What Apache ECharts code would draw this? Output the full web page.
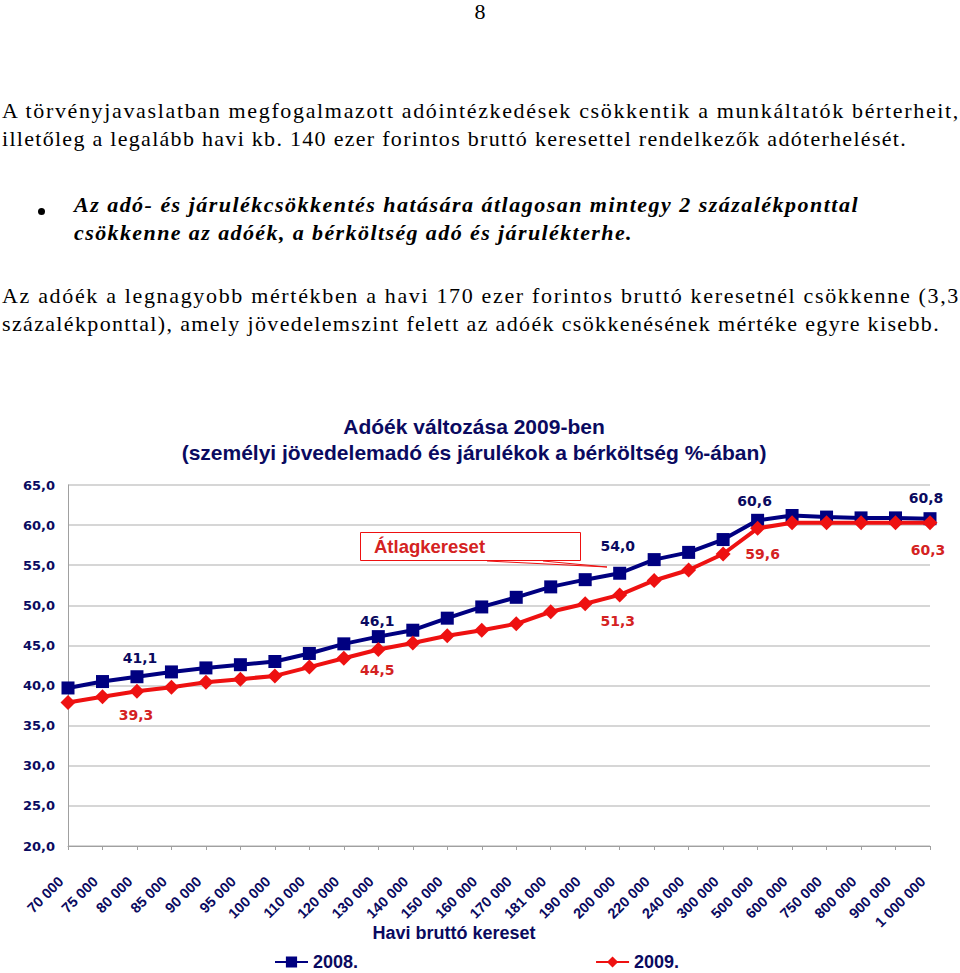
<!DOCTYPE html>
<html><head><meta charset="utf-8">
<script src="https://cdn.jsdelivr.net/npm/echarts/dist/echarts.min.js"></script>
<style>
html,body{margin:0;padding:0;background:#fff;width:960px;height:973px;overflow:hidden;}
#chart{position:absolute;left:0;top:0;width:960px;height:973px;}
.t{position:absolute;white-space:nowrap;font-family:"Liberation Serif","DejaVu Serif","Times New Roman",serif;font-size:22px;line-height:28px;color:#000;}
.bi{font-weight:bold;font-style:italic;}
.dot{position:absolute;left:38px;top:208px;width:7px;height:7px;border-radius:50%;background:#000;}
</style></head><body>
<div id="chart"></div>
<div class="t" style="left:0;top:-2px;width:960px;text-align:center">8</div>
<div class="t fit" data-w="958" style="left:2px;top:97px">A törvényjavaslatban megfogalmazott adóintézkedések csökkentik a munkáltatók bérterheit,</div>
<div class="t fit" data-w="905" style="left:2px;top:125px">illetőleg a legalább havi kb. 140 ezer forintos bruttó keresettel rendelkezők adóterhelését.</div>
<div class="dot"></div>
<div class="t bi fit" data-w="785" style="left:74px;top:191px">Az adó- és járulékcsökkentés hatására átlagosan mintegy 2 százalékponttal</div>
<div class="t bi fit" data-w="559" style="left:74px;top:219px">csökkenne az adóék, a bérköltség adó és járulékterhe.</div>
<div class="t fit" data-w="958" style="left:2px;top:282px">Az adóék a legnagyobb mértékben a havi 170 ezer forintos bruttó keresetnél csökkenne (3,3</div>
<div class="t fit" data-w="938" style="left:2px;top:310px">százalékponttal), amely jövedelemszint felett az adóék csökkenésének mértéke egyre kisebb.</div>
<script>
document.querySelectorAll('.fit').forEach(function(el){
  var target=+el.dataset.w;
  var w=el.getBoundingClientRect().width;
  var n=el.textContent.length;
  el.style.letterSpacing=((target-w)/n)+'px';
});

// ---- data ----
const categories=['70 000','75 000','80 000','85 000','90 000','95 000','100 000','110 000','120 000','130 000','140 000','150 000','160 000','170 000','181 000','190 000','200 000','220 000','240 000','300 000','500 000','600 000','750 000','800 000','900 000','1 000 000'];
const values2008=[39.7,40.5,41.1,41.7,42.2,42.6,43.0,44.0,45.2,46.1,46.9,48.4,49.8,51.0,52.3,53.2,54.0,55.7,56.6,58.2,60.6,61.2,61.0,60.9,60.9,60.8];
const values2009=[37.9,38.6,39.3,39.8,40.4,40.8,41.2,42.3,43.4,44.5,45.3,46.2,46.9,47.7,49.2,50.2,51.3,53.1,54.4,56.4,59.6,60.3,60.3,60.3,60.3,60.3];
const seriesNames=['2008.','2009.'];
const labelledIdx=[2,9,16,20,25];
const yMin=20, yMax=65, yStep=5;
const chartTitle='Adóék változása 2009-ben\n(személyi jövedelemadó és járulékok a bérköltség %-ában)';
const xName='Havi bruttó kereset';
const calloutText='Átlagkereset';

// ---- styles ----
const NAVY='#000080', TXT='#0a0a60', RED='#ee1111', REDTXT='#d42222';
const blueOffsets={2:[3,0],9:[-1,3],16:[-2,-9],20:[-3,-1],25:[-4,-2]};
const redOffsets={2:[-1,3],9:[-1,0],16:[-2,6],20:[5,5],25:[-2,7]};
const fmt=v=>v.toFixed(1).replace('.',',');

function buildData(vals,isBlue){
  return vals.map(function(v,i){
    if(labelledIdx.indexOf(i)<0) return v;
    const off=(isBlue?blueOffsets:redOffsets)[i];
    return {value:v,label:{show:true,position:isBlue?'top':'bottom',distance:isBlue?5:6,offset:off,
      formatter:p=>fmt(p.value),fontFamily:'DejaVu Sans',fontWeight:'bold',fontSize:14,color:isBlue?TXT:REDTXT}};
  });
}

const chart=echarts.init(document.getElementById('chart'),null,{renderer:'svg'});
chart.setOption({
  animation:false,
  grid:{left:68,right:30,top:485,bottom:127,containLabel:false},
  legend:{left:269,top:948,itemWidth:33,itemHeight:14,itemGap:237,data:seriesNames,
    textStyle:{fontFamily:'Liberation Sans',fontWeight:'bold',fontSize:18,lineHeight:18,color:TXT}},
  xAxis:{type:'category',data:categories,boundaryGap:false,
    axisLine:{lineStyle:{color:'#a0a0a0',width:1}},
    axisTick:{show:true,length:4,lineStyle:{color:'#a0a0a0'}},
    axisLabel:{interval:0,rotate:45,margin:26,padding:[0,10,0,0],fontFamily:'Liberation Sans',fontWeight:'bold',fontSize:14.5,color:TXT}},
  yAxis:{type:'value',min:yMin,max:yMax,interval:yStep,
    axisLine:{show:true,lineStyle:{color:'#a0a0a0',width:1}},
    axisTick:{show:false},
    splitLine:{lineStyle:{color:'#c8c8c8',width:1.5}},
    axisLabel:{formatter:v=>fmt(v),margin:13,fontFamily:'DejaVu Sans',fontWeight:'bold',fontSize:13,color:TXT}},
  series:[
    {name:seriesNames[0],type:'line',data:buildData(values2008,true),symbol:'rect',symbolSize:13,
      lineStyle:{color:NAVY,width:4},itemStyle:{color:NAVY},z:2},
    {name:seriesNames[1],type:'line',data:buildData(values2009,false),symbol:'diamond',symbolSize:15,
      lineStyle:{color:RED,width:4},itemStyle:{color:RED},z:3}
  ],
  graphic:[
    {type:'text',x:474,y:439,style:{text:chartTitle,align:'center',verticalAlign:'middle',lineHeight:26,
      fontFamily:'Liberation Sans',fontWeight:'bold',fontSize:21,fill:TXT}},
    {type:'text',x:454,y:933,style:{text:xName,align:'center',verticalAlign:'middle',
      fontFamily:'Liberation Sans',fontWeight:'bold',fontSize:18,fill:TXT}},
    {type:'rect',shape:{x:360.5,y:532.5,width:220,height:28},style:{fill:'none',stroke:RED,lineWidth:1},z:10},
    {type:'polyline',shape:{points:[[487,561],[607,567],[543,561]]},style:{fill:'none',stroke:RED,lineWidth:1},z:10},
    {type:'text',x:374,y:546,style:{text:calloutText,align:'left',verticalAlign:'middle',
      fontFamily:'Liberation Sans',fontWeight:'bold',fontSize:18.5,fill:REDTXT},z:10}
  ]
});
</script>
</body></html>
